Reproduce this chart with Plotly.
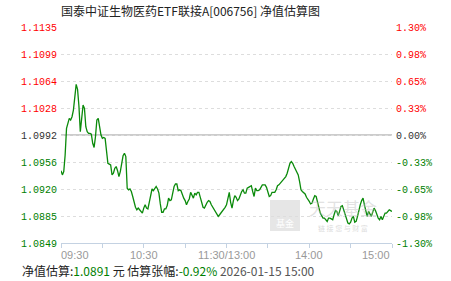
import plotly.graph_objects as go

chart_title = "国泰中证生物医药ETF联接A[006756] 净值估算图"
base_nav = 1.09921  # previous NAV (0.00% line)

# estimated change (%) per minute, 09:30-11:30 then 13:01-15:00
pct_change = [
    -0.43, -0.48, -0.44, -0.24, 0.08, 0.15, 0.20, 0.18, 0.22, 0.30,
    0.49, 0.61, 0.55, 0.35, 0.04, 0.20, 0.36, 0.32, 0.10, 0.04,
    0.02, 0.02, 0.01, -0.10, -0.15, -0.02, 0.18, 0.20, 0.09, 0.00,
    -0.04, -0.03, -0.04, -0.18, -0.34, -0.35, -0.36, -0.48, -0.46, -0.40,
    -0.38, -0.43, -0.50, -0.44, -0.32, -0.25, -0.22, -0.26, -0.64, -0.66,
    -0.65, -0.68, -0.74, -0.81, -0.87, -0.90, -0.88, -0.90, -0.92, -0.94,
    -0.88, -0.84, -0.88, -0.89, -0.81, -0.70, -0.65, -0.67, -0.65, -0.62,
    -0.65, -0.70, -0.83, -0.93, -0.93, -0.89, -0.89, -0.85, -0.76, -0.79,
    -0.78, -0.67, -0.62, -0.59, -0.59, -0.67, -0.66, -0.67, -0.73, -0.76,
    -0.79, -0.84, -0.80, -0.77, -0.69, -0.73, -0.76, -0.70, -0.72, -0.69,
    -0.69, -0.75, -0.82, -0.87, -0.88, -0.84, -0.81, -0.79, -0.80, -0.84,
    -0.87, -0.90, -0.92, -0.95, -0.98, -0.96, -0.94, -0.92, -0.89, -0.87,
    -0.84, -0.77, -0.69, -0.81, -0.88, -0.79, -0.73, -0.75, -0.79, -0.77,
    -0.72, -0.68, -0.66, -0.70, -0.70, -0.64, -0.63, -0.62, -0.61, -0.68,
    -0.74, -0.64, -0.67, -0.67, -0.66, -0.63, -0.60, -0.60, -0.60, -0.63,
    -0.69, -0.74, -0.73, -0.69, -0.69, -0.69, -0.66, -0.61, -0.60, -0.58,
    -0.56, -0.54, -0.52, -0.50, -0.46, -0.40, -0.34, -0.32, -0.34, -0.38,
    -0.42, -0.45, -0.48, -0.56, -0.66, -0.68, -0.69, -0.71, -0.75, -0.77,
    -0.80, -0.83, -0.82, -0.77, -0.73, -0.74, -0.81, -0.89, -0.94, -0.97,
    -1.00, -1.00, -1.02, -1.04, -1.00, -1.00, -1.01, -1.02, -0.96, -0.91,
    -0.92, -0.97, -0.92, -0.86, -0.85, -0.90, -0.96, -1.02, -1.06, -1.07,
    -1.05, -1.00, -0.98, -1.05, -1.04, -0.98, -0.89, -0.84, -0.79, -0.76,
    -0.84, -0.91, -0.98, -0.92, -0.96, -0.98, -0.93, -0.88, -0.91, -0.97,
    -1.00, -1.02, -0.98, -1.02, -0.97, -0.94, -0.94, -0.92, -0.90, -0.91,
    -0.92,
]

morning = [f"{9 + (30 + i) // 60:02d}:{(30 + i) % 60:02d}" for i in range(121)]
afternoon = [f"{13 + (1 + i) // 60:02d}:{(1 + i) % 60:02d}" for i in range(120)]
times = morning + afternoon

left_tick_labels = ["1.1135", "1.1099", "1.1064", "1.1028", "1.0992",
                    "1.0956", "1.0920", "1.0885", "1.0849"]
right_tick_labels = ["1.30%", "0.98%", "0.65%", "0.33%", "0.00%",
                     "-0.33%", "-0.65%", "-0.98%", "-1.30%"]
pct_ticks = [1.3, 0.975, 0.65, 0.325, 0.0, -0.325, -0.65, -0.975, -1.3]

x_tick_times = ["09:30", "10:00", "10:30", "11:00", "11:30",
                "13:30", "14:00", "14:30", "15:00"]
x_label_at = ["09:30", "10:30", "11:30", "14:00", "15:00"]
x_label_text = ["09:30", "10:30", "11:30/13:00", "14:00", "15:00"]

est_nav = "1.0891"
est_pct = "-0.92%"
est_time = "2026-01-15 15:00"

RED, GREEN, DARK = "#ff0000", "#008000", "#333333"


def colour_for(p):
    return RED if p > 0 else (GREEN if p < 0 else DARK)


nav = [base_nav * (1 + p / 100) for p in pct_change]
left_vals = [base_nav * (1 + p / 100) for p in pct_ticks]

left_text = [f"<span style='color:{colour_for(p)}'>{t}</span>"
             for p, t in zip(pct_ticks, left_tick_labels)]
right_text = [f"<span style='color:{colour_for(p)}'>{t}</span>"
              for p, t in zip(pct_ticks, right_tick_labels)]

W, H = 451, 281
L, R, T, B = 61, 59, 27, 38
pw, ph = W - L - R, H - T - B


def px(x):
    return (x - L) / pw


def py(y):
    return (H - B - y) / ph


fig = go.Figure()
fig.add_trace(go.Scatter(x=times, y=nav, mode="lines",
                         line=dict(color="#0a8a0a", width=1.3),
                         hoverinfo="skip", showlegend=False))
fig.add_trace(go.Scatter(x=times, y=pct_change, mode="lines", yaxis="y2",
                         line=dict(color="rgba(0,0,0,0)", width=0),
                         hoverinfo="skip", showlegend=False))

tick_font = dict(family="Liberation Mono", size=10, color=DARK)

fig.update_layout(
    width=W, height=H, autosize=False,
    margin=dict(l=L, r=R, t=T, b=B, pad=0),
    paper_bgcolor="white", plot_bgcolor="white",
    xaxis=dict(type="category", range=[0, len(times) - 1],
               showgrid=False, zeroline=False,
               showline=True, linecolor="#c4d2e2", linewidth=1,
               ticks="outside", ticklen=4, tickcolor="#c4d2e2",
               tickvals=x_tick_times, showticklabels=False),
    yaxis=dict(range=[left_vals[-1], left_vals[0]],
               tickvals=left_vals, ticktext=left_text,
               tickfont=tick_font, ticks="", ticklabelstandoff=3,
               showgrid=True, gridcolor="#dddddd", griddash="dot",
               gridwidth=1, zeroline=False, showline=False),
    yaxis2=dict(range=[pct_ticks[-1], pct_ticks[0]], overlaying="y",
                side="right", tickvals=pct_ticks, ticktext=right_text,
                tickfont=tick_font, ticks="", ticklabelstandoff=3,
                showgrid=False, zeroline=False, showline=False),
)

# zero (previous NAV) line
fig.add_shape(type="line", xref="paper", yref="y", x0=0, x1=1,
              y0=base_nav, y1=base_nav, line=dict(color="#999999", width=1.2),
              layer="below")

# watermark
fig.add_shape(type="rect", xref="paper", yref="paper",
              x0=px(270), x1=px(300), y0=py(231), y1=py(200),
              fillcolor="rgba(200,200,200,0.45)", line=dict(width=0),
              layer="below")
annotations = [
    dict(text="基金", x=px(285), y=py(223), font=dict(size=9, color="white",
         family="Noto Sans CJK SC")),
    dict(text="天天基金", x=px(343), y=py(207),
         font=dict(size=17, color="rgba(190,190,190,0.45)",
                   family="Noto Sans CJK SC")),
    dict(text="链 接 您 与 财 富", x=px(343), y=py(228),
         font=dict(size=7, color="rgba(190,190,190,0.55)",
                   family="Noto Sans CJK SC")),
]
for a in annotations:
    a.update(xref="paper", yref="paper", showarrow=False,
             xanchor="center", yanchor="middle")
    fig.add_annotation(**a)

# title
fig.add_annotation(text=chart_title, xref="paper", yref="paper",
                   x=px(190), y=py(11), showarrow=False,
                   xanchor="center", yanchor="middle",
                   font=dict(family="Noto Sans CJK SC", size=12, color="#222222"))

# x labels
for i, (at, txt) in enumerate(zip(x_label_at, x_label_text)):
    anchor = "left" if i == 0 else ("right" if i == len(x_label_at) - 1 else "center")
    fig.add_annotation(text=txt, xref="x", yref="paper", x=at, y=py(254.5),
                       showarrow=False, xanchor=anchor, yanchor="middle",
                       xshift=-2 if i == 0 else 0,
                       font=dict(family="Liberation Sans", size=11, color="#999999"))

# footer
footer = (f"净值估算:<span style='color:{GREEN}'>{est_nav}</span> 元 "
          f"估算张幅:<span style='color:{GREEN}'>{est_pct}</span> "
          f"<span style='color:#555555'>{est_time}</span>")
fig.add_annotation(text=footer, xref="paper", yref="paper", x=px(20), y=py(270),
                   showarrow=False, xanchor="left", yanchor="middle",
                   font=dict(family="Noto Sans CJK SC", size=12, color="#222222"))

fig.write_html("out.html", config={"displayModeBar": False})
